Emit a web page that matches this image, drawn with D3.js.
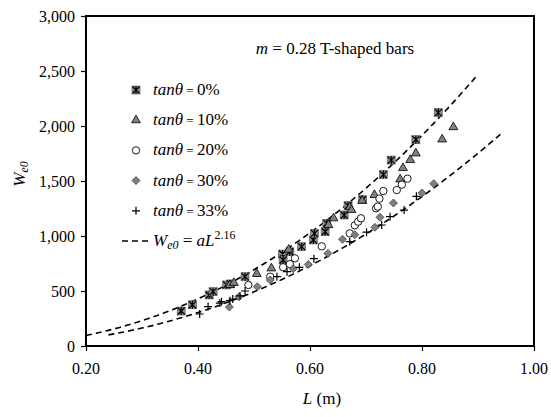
<!DOCTYPE html>
<html>
<head>
<meta charset="utf-8">
<script src="https://cdn.jsdelivr.net/npm/d3@7"></script>
<style>
  body { margin: 0; background: #fff; }
</style>
</head>
<body>
<div id="chart"></div>
<script>
// values: [L (m), We0]
const series0 = [[0.37, 318], [0.39, 375], [0.42, 464], [0.427, 494], [0.451, 555], [0.458, 564], [0.484, 630],
    [0.551, 836], [0.552, 782], [0.564, 857], [0.585, 903], [0.606, 964], [0.608, 1024], [0.627, 1039],
    [0.63, 1115], [0.661, 1191], [0.668, 1276], [0.694, 1330], [0.731, 1558], [0.745, 1690], [0.789, 1876], [0.829, 2122]];
const series10 = [[0.457, 555], [0.464, 574], [0.505, 655], [0.531, 706], [0.562, 876], [0.633, 1100], [0.642, 1161],
    [0.671, 1261], [0.674, 1236], [0.693, 1321], [0.715, 1373], [0.761, 1515], [0.766, 1618], [0.779, 1691],
    [0.789, 1751], [0.836, 1878], [0.856, 1990]];
const series20 = [[0.49, 555], [0.529, 630], [0.552, 716], [0.564, 745], [0.573, 797], [0.621, 906], [0.671, 1024],
    [0.68, 1097], [0.686, 1130], [0.691, 1161], [0.718, 1252], [0.721, 1267], [0.724, 1340], [0.731, 1409],
    [0.755, 1418], [0.764, 1467], [0.774, 1521]];
const series30 = [[0.456, 354], [0.473, 448], [0.506, 539], [0.529, 600], [0.57, 703], [0.597, 741], [0.632, 842],
    [0.658, 970], [0.68, 1012], [0.716, 1079], [0.725, 1170], [0.749, 1300], [0.8, 1391], [0.821, 1476]];
const series33 = [[0.403, 291], [0.418, 358], [0.439, 390], [0.442, 403], [0.457, 412], [0.462, 427], [0.475, 455],
    [0.484, 500], [0.541, 630], [0.559, 676], [0.581, 715], [0.607, 794], [0.671, 948], [0.701, 1035],
    [0.728, 1100], [0.743, 1176], [0.768, 1236], [0.79, 1361]];

const seriesLabels = ["0%", "10%", "20%", "30%", "33%"];
const seriesShapes = ["star", "triangle", "circle", "diamond", "plus"];

// fitted curves We0 = a L^2.16
const exponent = 2.16;
const curveA = [3100, 2200];
const curveRange = [[0.2, 0.9], [0.24, 0.94]];

const xTicks = [0.2, 0.4, 0.6, 0.8, 1.0];
const yTicks = [0, 500, 1000, 1500, 2000, 2500, 3000];

const width = 551, height = 417;
const margin = {top: 16, right: 17, bottom: 71, left: 86};
const serif = "'Liberation Serif', monospace";

const svg = d3.select("#chart").append("svg")
    .attr("width", width)
    .attr("height", height);

const x = d3.scaleLinear().domain([0.2, 1.0]).range([margin.left, width - margin.right]);
const y = d3.scaleLinear().domain([0, 3000]).range([height - margin.bottom, margin.top]);

// helper so every text gets its face on the element itself
function addText(parent, size) {
    return parent.append("text").attr("font-family", serif).attr("font-size", size);
}

// axes: ticks only, labels drawn as plain texts
const xAxis = svg.append("g")
    .attr("transform", `translate(0, ${height - margin.bottom})`)
    .call(d3.axisBottom(x).tickValues(xTicks).tickFormat("").tickSizeOuter(0).tickSize(5));
const yAxis = svg.append("g")
    .attr("transform", `translate(${margin.left}, 0)`)
    .call(d3.axisLeft(y).tickValues(yTicks).tickFormat("").tickSizeOuter(0).tickSize(5));

[xAxis, yAxis].forEach(g => {
    g.attr("font-family", null);
    g.select(".domain").remove();
    g.selectAll("text").remove();
    g.selectAll("line").attr("stroke", "#000").attr("stroke-width", 1.2);
});

xTicks.forEach(v => {
    addText(svg, 16).attr("x", x(v)).attr("y", height - margin.bottom + 28)
        .attr("text-anchor", "middle").text(d3.format(".2f")(v));
});
yTicks.forEach(v => {
    addText(svg, 16).attr("x", margin.left - 11).attr("y", y(v) + 5.5)
        .attr("text-anchor", "end").text(d3.format(",")(v));
});

// frame
svg.append("rect")
    .attr("x", margin.left)
    .attr("y", margin.top)
    .attr("width", width - margin.left - margin.right)
    .attr("height", height - margin.top - margin.bottom)
    .attr("fill", "none")
    .attr("stroke", "#000")
    .attr("stroke-width", 2);

// fitted curves
const line = d3.line().x(d => x(d[0])).y(d => y(d[1]));
curveA.forEach((a, i) => {
    const pts = d3.range(curveRange[i][0], curveRange[i][1] + 0.0001, 0.01).map(L => [L, a * Math.pow(L, exponent)]);
    svg.append("path")
        .datum(pts)
        .attr("d", line)
        .attr("fill", "none")
        .attr("stroke", "#000")
        .attr("stroke-width", 1.6)
        .attr("stroke-dasharray", "6,4");
});

// marker drawing
function drawMarker(g, shape) {
    if (shape === "star") {
        g.append("rect").attr("x", -4).attr("y", -4).attr("width", 8).attr("height", 8)
            .attr("fill", "#8c8c8c").attr("stroke", "#555").attr("stroke-width", 0.6);
        g.append("path").attr("d", "M-3.5,-3.5L3.5,3.5M-3.5,3.5L3.5,-3.5M0,-4L0,4")
            .attr("stroke", "#000").attr("stroke-width", 1.2);
    } else if (shape === "triangle") {
        g.append("path").attr("d", d3.symbol().type(d3.symbolTriangle).size(34)())
            .attr("fill", "#808080").attr("stroke", "#000").attr("stroke-width", 0.8);
    } else if (shape === "circle") {
        g.append("circle").attr("r", 3.7)
            .attr("fill", "#fff").attr("stroke", "#000").attr("stroke-width", 0.9);
    } else if (shape === "diamond") {
        g.append("path").attr("d", "M0,-4L4,0L0,4L-4,0Z")
            .attr("fill", "#808080").attr("stroke", "#333").attr("stroke-width", 0.7);
    } else {
        g.append("path").attr("d", "M-4,0L4,0M0,-4L0,4")
            .attr("stroke", "#000").attr("stroke-width", 1.2);
    }
}

const allSeries = [series0, series10, series20, series30, series33];
allSeries.forEach((data, i) => {
    svg.append("g").selectAll("g")
        .data(data)
        .enter().append("g")
        .attr("transform", d => `translate(${x(d[0])}, ${y(d[1])})`)
        .each(function() { drawMarker(d3.select(this), seriesShapes[i]); });
});

// title
const title = addText(svg, 17)
    .attr("x", 335)
    .attr("y", 54)
    .attr("text-anchor", "middle");
title.append("tspan").attr("font-style", "italic").text("m");
title.append("tspan").text(" = 0.28 T-shaped bars");

// legend
const legend = svg.append("g").attr("transform", "translate(136, 90)");
seriesLabels.forEach((lab, i) => {
    const row = legend.append("g").attr("transform", `translate(0, ${i * 30.2})`);
    drawMarker(row, seriesShapes[i]);
    const t = addText(row, 17).attr("x", 17).attr("y", 5);
    t.append("tspan").attr("font-style", "italic").text("tan\u03b8");
    t.append("tspan").attr("font-size", 13).text(" = ");
    t.append("tspan").text(lab);
});
const lastRow = legend.append("g").attr("transform", `translate(0, ${5 * 30.2})`);
lastRow.append("line").attr("x1", -14).attr("x2", 12).attr("y1", 0).attr("y2", 0)
    .attr("stroke", "#000").attr("stroke-width", 1.6).attr("stroke-dasharray", "6,4");
const lt = addText(lastRow, 17).attr("x", 17).attr("y", 5);
lt.append("tspan").attr("font-style", "italic").text("W");
lt.append("tspan").attr("font-style", "italic").attr("font-size", 12).attr("dy", 3).text("e0");
lt.append("tspan").attr("dy", -3).text(" = ");
lt.append("tspan").attr("font-style", "italic").text("aL");
lt.append("tspan").attr("font-size", 12).attr("dy", -7).text("2.16");

// axis titles
const xt = addText(svg, 17)
    .attr("x", 322)
    .attr("y", 404)
    .attr("text-anchor", "middle");
xt.append("tspan").attr("font-style", "italic").text("L");
xt.append("tspan").text(" (m)");

const yt = addText(svg, 17)
    .attr("transform", "translate(25, 174) rotate(-90)")
    .attr("text-anchor", "middle");
yt.append("tspan").attr("font-style", "italic").text("W");
yt.append("tspan").attr("font-style", "italic").attr("font-size", 12).attr("dy", 3).text("e0");
</script>
</body>
</html>
